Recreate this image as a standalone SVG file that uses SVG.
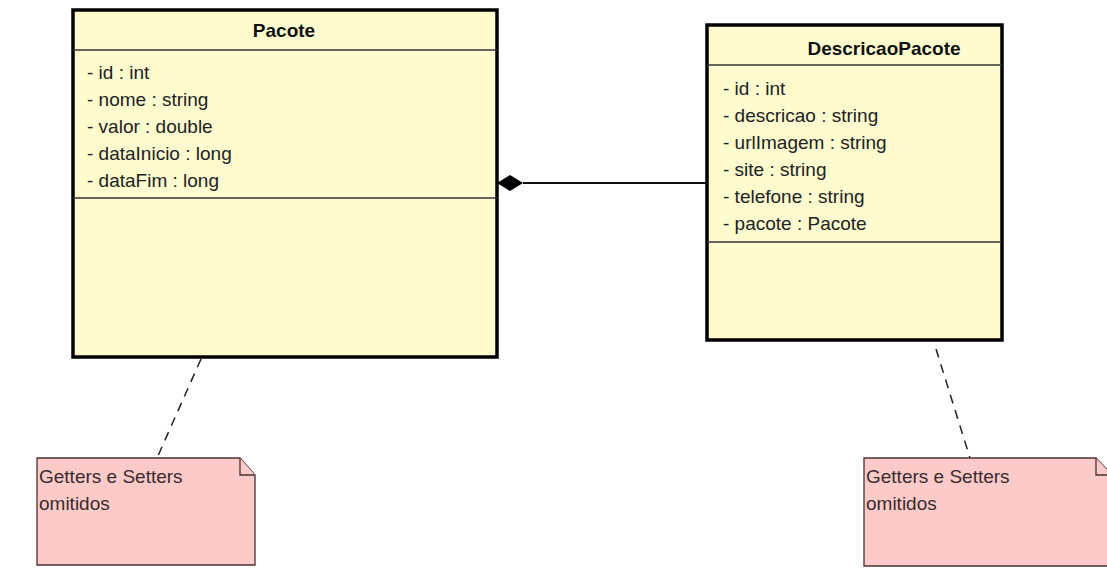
<svg xmlns="http://www.w3.org/2000/svg" width="1107" height="568" viewBox="0 0 1107 568">
<style>
.cls{fill:#fefbcf;stroke:#000;stroke-width:3.5}
.div{stroke:#333;stroke-width:1.3}
.title{font-family:"Liberation Sans",Arial,sans-serif;font-size:19px;font-weight:bold;fill:#111;text-anchor:middle}
.attr{font-family:"Liberation Sans",Arial,sans-serif;font-size:19px;fill:#222}
.note{fill:#fdcaca;stroke:#4a3030;stroke-width:1.3}
.ntxt{font-family:"Liberation Sans",Arial,sans-serif;font-size:19px;fill:#3a2a2a}
.dash{stroke:#222;stroke-width:1.5;stroke-dasharray:9,7;fill:none}
</style>
<rect width="1107" height="568" fill="#fff"/>
<g id="connectors">
<line x1="523" y1="183" x2="707" y2="183" stroke="#111" stroke-width="1.8"/>
<polygon points="497,183 510,175 523,183 510,191" fill="#000"/>
<line class="dash" x1="201" y1="359" x2="157" y2="458"/>
<line class="dash" x1="936" y1="349" x2="970" y2="458"/>
</g>
<g id="Pacote">
<rect class="cls" x="73" y="10" width="424" height="347"/>
<line class="div" x1="73" y1="50" x2="497" y2="50"/>
<line class="div" x1="73" y1="198" x2="497" y2="198"/>
<text class="title" x="284" y="37">Pacote</text>
<text class="attr" x="87" y="79">- id : int</text>
<text class="attr" x="87" y="106">- nome : string</text>
<text class="attr" x="87" y="133">- valor : double</text>
<text class="attr" x="87" y="160">- dataInicio : long</text>
<text class="attr" x="87" y="187">- dataFim : long</text>
</g>
<g id="DescricaoPacote">
<rect class="cls" x="707" y="25" width="295" height="315"/>
<line class="div" x1="707" y1="65" x2="1002" y2="65"/>
<line class="div" x1="707" y1="242" x2="1002" y2="242"/>
<text class="title" x="884" y="55">DescricaoPacote</text>
<text class="attr" x="723" y="95">- id : int</text>
<text class="attr" x="723" y="122">- descricao : string</text>
<text class="attr" x="723" y="149">- urlImagem : string</text>
<text class="attr" x="723" y="176">- site : string</text>
<text class="attr" x="723" y="203">- telefone : string</text>
<text class="attr" x="723" y="230">- pacote : Pacote</text>
</g>
<g id="note1">
<path class="note" d="M37,458 H240 L255,475 V565 H37 Z"/>
<path class="note" d="M240,458 V475 H255"/>
<text class="ntxt" x="39" y="483">Getters e Setters</text>
<text class="ntxt" x="39" y="510">omitidos</text>
</g>
<g id="note2">
<path class="note" d="M864,458 H1096 L1112,475 V566 H864 Z"/>
<path class="note" d="M1096,458 V475 H1112"/>
<text class="ntxt" x="866" y="483">Getters e Setters</text>
<text class="ntxt" x="866" y="510">omitidos</text>
</g>
</svg>
